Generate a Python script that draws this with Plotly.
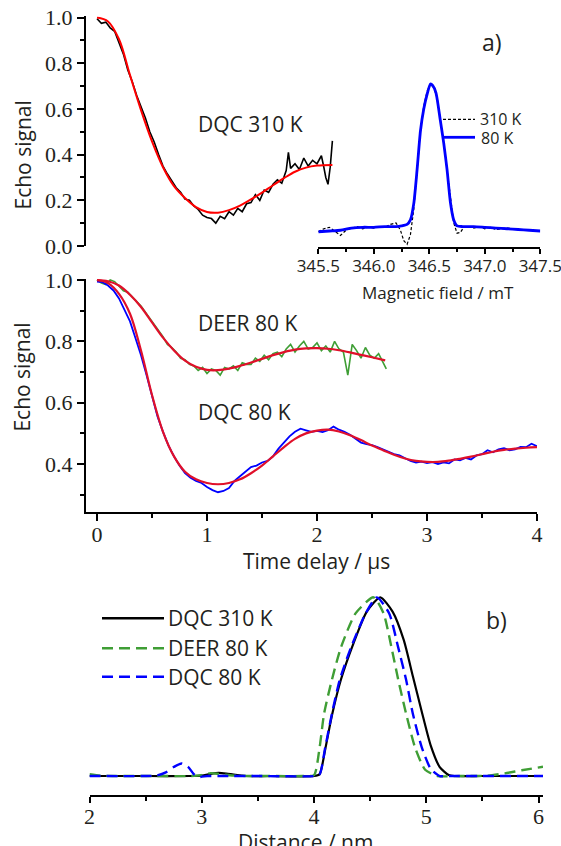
import plotly.graph_objects as go

W, H = 561, 846

# ---------------- Panel a (top): DQC 310 K time trace ----------------
DQC310_T = [0.00, 0.04, 0.08, 0.12, 0.16, 0.20, 0.24, 0.28, 0.32, 0.36, 0.40, 0.44, 0.48, 0.52,
            0.56, 0.60, 0.64, 0.68, 0.72, 0.76, 0.80, 0.84, 0.88, 0.92, 0.96, 1.00, 1.04, 1.08,
            1.12, 1.16, 1.20, 1.24, 1.28, 1.32, 1.36, 1.40, 1.44, 1.48, 1.52, 1.56, 1.60, 1.64,
            1.68, 1.72, 1.74, 1.76, 1.80, 1.84, 1.88, 1.92, 1.96, 2.00, 2.04, 2.06, 2.08, 2.10,
            2.12, 2.14]
DQC310_V = [0.995, 0.975, 0.98, 0.955, 0.94, 0.89, 0.84, 0.77, 0.72, 0.66, 0.61, 0.56, 0.50, 0.455,
            0.40, 0.35, 0.315, 0.285, 0.255, 0.235, 0.205, 0.20, 0.175, 0.16, 0.135, 0.125, 0.12, 0.10,
            0.13, 0.12, 0.15, 0.135, 0.165, 0.15, 0.185, 0.19, 0.225, 0.20, 0.245, 0.235, 0.27, 0.29,
            0.275, 0.33, 0.41, 0.34, 0.36, 0.335, 0.385, 0.35, 0.375, 0.36, 0.395, 0.35, 0.30, 0.27,
            0.345, 0.46]
FIT310_T = [0, 0.1, 0.2, 0.3, 0.4, 0.5, 0.6, 0.7, 0.8, 0.9, 1.0, 1.1, 1.2, 1.3, 1.4, 1.5, 1.6,
            1.7, 1.8, 1.9, 2.0, 2.14]
FIT310_V = [1.0, 0.983, 0.905, 0.748, 0.595, 0.458, 0.345, 0.262, 0.21, 0.17, 0.149, 0.146, 0.157,
            0.177, 0.204, 0.234, 0.266, 0.297, 0.325, 0.343, 0.352, 0.355]

# ---------------- Panel a (middle): DQC 80 K and DEER 80 K ----------------
DQC80_T = [0.00, 0.05, 0.10, 0.15, 0.20, 0.25, 0.30, 0.35, 0.40, 0.45, 0.50, 0.55, 0.60, 0.65,
           0.70, 0.75, 0.80, 0.85, 0.90, 0.95, 1.00, 1.05, 1.10, 1.15, 1.20, 1.25, 1.30, 1.35,
           1.40, 1.45, 1.50, 1.55, 1.60, 1.65, 1.70, 1.75, 1.80, 1.85, 1.90, 1.95, 2.00, 2.05,
           2.10, 2.15, 2.20, 2.25, 2.30, 2.35, 2.40, 2.45, 2.50, 2.55, 2.60, 2.65, 2.70, 2.75,
           2.80, 2.85, 2.90, 2.95, 3.00, 3.05, 3.10, 3.15, 3.20, 3.25, 3.30, 3.35, 3.40, 3.45,
           3.50, 3.55, 3.60, 3.65, 3.70, 3.75, 3.80, 3.85, 3.90, 3.95, 4.00]
DQC80_V = [0.995, 0.993, 0.982, 0.966, 0.94, 0.905, 0.865, 0.81, 0.755, 0.69, 0.62, 0.555, 0.505, 0.46,
           0.425, 0.395, 0.37, 0.355, 0.345, 0.338, 0.325, 0.315, 0.308, 0.312, 0.322, 0.345, 0.36, 0.375,
           0.39, 0.395, 0.405, 0.41, 0.425, 0.45, 0.47, 0.49, 0.505, 0.515, 0.51, 0.505, 0.508, 0.504,
           0.51, 0.522, 0.512, 0.505, 0.495, 0.482, 0.47, 0.465, 0.462, 0.455, 0.448, 0.44, 0.432, 0.428,
           0.42, 0.41, 0.405, 0.408, 0.403, 0.406, 0.40, 0.405, 0.402, 0.415, 0.412, 0.42, 0.415, 0.428,
           0.432, 0.445, 0.438, 0.448, 0.452, 0.445, 0.448, 0.456, 0.455, 0.466, 0.458]
FIT80_T = [0, 0.1, 0.2, 0.3, 0.4, 0.5, 0.6, 0.7, 0.8, 0.9, 1.0, 1.1, 1.2, 1.3, 1.4, 1.5, 1.6, 1.7,
           1.8, 1.9, 2.0, 2.1, 2.2, 2.3, 2.4, 2.5, 2.6, 2.7, 2.8, 2.9, 3.0, 3.1, 3.2, 3.3, 3.4, 3.5,
           3.6, 3.7, 3.8, 3.9, 4.0]
FIT80_V = [1.0, 0.99, 0.955, 0.89, 0.77, 0.625, 0.505, 0.425, 0.375, 0.35, 0.338, 0.334, 0.338, 0.35,
           0.37, 0.395, 0.425, 0.455, 0.482, 0.5, 0.509, 0.512, 0.506, 0.494, 0.478, 0.46, 0.445, 0.43,
           0.418, 0.41, 0.407, 0.407, 0.411, 0.417, 0.424, 0.432, 0.44, 0.446, 0.45, 0.453, 0.455]

DEER_T = [0.00, 0.04, 0.08, 0.12, 0.16, 0.20, 0.24, 0.28, 0.32, 0.36, 0.40, 0.44, 0.48, 0.52,
          0.56, 0.60, 0.64, 0.68, 0.72, 0.76, 0.80, 0.84, 0.88, 0.92, 0.96, 1.00, 1.04, 1.08,
          1.12, 1.16, 1.20, 1.24, 1.28, 1.32, 1.36, 1.40, 1.44, 1.48, 1.52, 1.56, 1.60, 1.64,
          1.68, 1.72, 1.76, 1.80, 1.84, 1.88, 1.92, 1.96, 2.00, 2.04, 2.08, 2.12, 2.16, 2.20,
          2.24, 2.28, 2.32, 2.36, 2.40, 2.44, 2.48, 2.52, 2.56, 2.60, 2.63]
DEER_V = [1.0, 0.99, 0.985, 1.0, 0.995, 0.98, 0.965, 0.96, 0.945, 0.93, 0.915, 0.895, 0.875, 0.855,
          0.835, 0.815, 0.79, 0.78, 0.765, 0.745, 0.74, 0.725, 0.72, 0.705, 0.715, 0.695, 0.71, 0.705,
          0.69, 0.715, 0.71, 0.72, 0.705, 0.73, 0.725, 0.725, 0.745, 0.735, 0.755, 0.74, 0.76, 0.765,
          0.75, 0.775, 0.79, 0.765, 0.785, 0.80, 0.775, 0.78, 0.795, 0.77, 0.785, 0.765, 0.80, 0.775,
          0.765, 0.69, 0.79, 0.77, 0.745, 0.78, 0.755, 0.745, 0.76, 0.73, 0.71]
FITDEER_T = [0, 0.1, 0.2, 0.3, 0.4, 0.5, 0.6, 0.7, 0.8, 0.9, 1.0, 1.1, 1.2, 1.3, 1.4, 1.5, 1.6,
             1.7, 1.8, 1.9, 2.0, 2.1, 2.2, 2.3, 2.4, 2.5, 2.62]
FITDEER_V = [1.0, 0.996, 0.982, 0.952, 0.912, 0.862, 0.812, 0.77, 0.737, 0.717, 0.707, 0.706, 0.711,
             0.72, 0.731, 0.743, 0.755, 0.765, 0.773, 0.777, 0.778, 0.776, 0.771, 0.764, 0.756, 0.748,
             0.738]

# ---------------- Inset: echo-detected field sweep ----------------
FIELD80 = [345.50, 345.60, 345.70, 345.80, 345.90, 346.00, 346.10, 346.20, 346.25, 346.30, 346.33,
           346.36, 346.39, 346.42, 346.45, 346.48, 346.51, 346.53, 346.56, 346.60, 346.63, 346.66,
           346.69, 346.72, 346.75, 346.80, 346.90, 347.00, 347.10, 347.20, 347.30, 347.40, 347.50]
SPEC80 = [0.0, 0.005, 0.01, 0.025, 0.03, 0.03, 0.035, 0.035, 0.04, 0.05, 0.08, 0.19, 0.42, 0.68,
          0.83, 0.93, 1.0, 0.99, 0.94, 0.75, 0.6, 0.42, 0.2, 0.08, 0.04, 0.035, 0.035, 0.03, 0.025,
          0.02, 0.015, 0.01, 0.005]
FIELD310 = [345.50, 345.55, 345.60, 345.65, 345.70, 345.75, 345.80, 345.85, 345.90, 345.95, 346.00,
            346.05, 346.10, 346.15, 346.20, 346.24, 346.27, 346.30, 346.33, 346.36, 346.39, 346.42,
            346.45, 346.48, 346.51, 346.54, 346.57, 346.60, 346.63, 346.66, 346.69, 346.72, 346.75,
            346.78, 346.81, 346.85, 346.90, 346.95, 347.00, 347.05, 347.10, 347.20, 347.30, 347.40,
            347.50]
SPEC310 = [0.0, 0.02, 0.03, 0.0, -0.025, 0.01, 0.02, 0.035, 0.02, 0.03, 0.025, 0.035, 0.03, 0.05,
           0.06, 0.01, -0.06, -0.085, -0.02, 0.15, 0.41, 0.68, 0.85, 0.95, 1.0, 0.975, 0.91, 0.77,
           0.6, 0.42, 0.22, 0.06, -0.01, -0.005, 0.03, 0.035, 0.025, 0.035, 0.02, 0.03, 0.015, 0.025,
           0.015, 0.01, 0.005]
FIELD_TICKS = [345.5, 346.0, 346.5, 347.0, 347.5]

# ---------------- Panel b: distance distributions ----------------
R310 = [2.0, 2.5, 2.9, 3.0, 3.08, 3.15, 3.22, 3.3, 3.4, 3.6, 4.0, 4.05, 4.10, 4.16, 4.24, 4.35,
        4.47, 4.59, 4.70, 4.80, 4.88, 4.96, 5.04, 5.12, 5.20, 5.25, 5.5, 6.0]
P310 = [0, 0, 0, 0.002, 0.012, 0.018, 0.014, 0.006, 0.0, 0, 0, 0.01, 0.15, 0.34, 0.54, 0.74,
        0.92, 1.0, 0.92, 0.76, 0.56, 0.36, 0.17, 0.05, 0.005, 0, 0, 0]
RDEER = [2.0, 2.1, 2.3, 2.6, 2.9, 3.0, 3.08, 3.15, 3.25, 3.4, 3.6, 3.9, 4.0, 4.05, 4.09, 4.16,
         4.24, 4.37, 4.53, 4.62, 4.69, 4.75, 4.82, 4.90, 4.99, 5.10, 5.3, 5.55, 5.7, 5.85, 6.04]
PDEER = [0.01, 0.002, 0, 0, 0, 0.005, 0.016, 0.012, 0.004, 0, 0, 0, 0.005, 0.16, 0.35, 0.54,
         0.72, 0.91, 1.0, 0.91, 0.72, 0.54, 0.35, 0.16, 0.035, 0, 0, 0.002, 0.015, 0.032, 0.052]
R80 = [2.0, 2.5, 2.6, 2.68, 2.75, 2.82, 2.88, 2.93, 2.98, 3.05, 3.2, 3.5, 4.0, 4.05, 4.10, 4.16,
       4.23, 4.33, 4.46, 4.56, 4.67, 4.75, 4.82, 4.88, 4.96, 5.04, 5.12, 5.2, 5.5, 6.04]
P80 = [0, 0, 0.003, 0.02, 0.05, 0.07, 0.05, 0.01, -0.005, 0.0, 0, 0, 0, 0.01, 0.16, 0.35, 0.54,
       0.72, 0.91, 1.0, 0.91, 0.72, 0.54, 0.35, 0.16, 0.04, 0.0, 0, 0, 0]

TIME_TICKS = [0, 1, 2, 3, 4]
DIST_TICKS = [2, 3, 4, 5, 6]

RED = "#ff0000"
RED2 = "#e0102a"
GREEN = "#3f9e35"
BLUE = "#0000ff"
TXT = "#231f20"
SERIF = "Liberation Serif, Times New Roman, serif"
SANS = "Open Sans"


def px(x):
    return x / W


def py(y):
    return 1 - y / H


fig = go.Figure()

# top panel
fig.add_trace(go.Scatter(x=DQC310_T, y=DQC310_V, xaxis="x", yaxis="y", mode="lines",
                         line=dict(color="black", width=1.6)))
fig.add_trace(go.Scatter(x=FIT310_T, y=FIT310_V, xaxis="x", yaxis="y", mode="lines",
                         line=dict(color=RED, width=2, shape="spline")))
# middle panel
fig.add_trace(go.Scatter(x=DEER_T, y=DEER_V, xaxis="x2", yaxis="y2", mode="lines",
                         line=dict(color=GREEN, width=1.6)))
fig.add_trace(go.Scatter(x=DQC80_T, y=DQC80_V, xaxis="x2", yaxis="y2", mode="lines",
                         line=dict(color=BLUE, width=1.8)))
fig.add_trace(go.Scatter(x=FITDEER_T, y=FITDEER_V, xaxis="x2", yaxis="y2", mode="lines",
                         line=dict(color=RED2, width=2.2, shape="spline")))
fig.add_trace(go.Scatter(x=FIT80_T, y=FIT80_V, xaxis="x2", yaxis="y2", mode="lines",
                         line=dict(color=RED2, width=2.2, shape="spline")))
# inset
fig.add_trace(go.Scatter(x=FIELD310, y=SPEC310, xaxis="x3", yaxis="y3", mode="lines",
                         line=dict(color="black", width=1.2, dash="3px,2px")))
fig.add_trace(go.Scatter(x=FIELD80, y=SPEC80, xaxis="x3", yaxis="y3", mode="lines",
                         line=dict(color=BLUE, width=2.8, shape="spline", smoothing=0.6)))
# panel b
fig.add_trace(go.Scatter(x=R310, y=P310, xaxis="x4", yaxis="y4", mode="lines",
                         line=dict(color="black", width=2.2, shape="spline", smoothing=0.6)))
fig.add_trace(go.Scatter(x=RDEER, y=PDEER, xaxis="x4", yaxis="y4", mode="lines",
                         line=dict(color=GREEN, width=2.4, dash="11px,6px", shape="spline", smoothing=0.6)))
fig.add_trace(go.Scatter(x=R80, y=P80, xaxis="x4", yaxis="y4", mode="lines",
                         line=dict(color=BLUE, width=2.4, dash="11px,6px", shape="spline", smoothing=0.6)))

axis_base = dict(showline=True, linecolor="black", linewidth=2, ticks="outside", tickcolor="black",
                 tickwidth=2, ticklen=7, showgrid=False, zeroline=False, automargin=False,
                 ticklabeloverflow="allow",
                 tickfont=dict(family=SERIF, size=22, color=TXT))
minor_base = dict(ticks="outside", ticklen=4, tickwidth=2, tickcolor="black", showgrid=False)

fig.update_layout(
    template="none",
    width=W, height=H, margin=dict(l=0, r=0, t=0, b=0, autoexpand=False),
    paper_bgcolor="white", plot_bgcolor="rgba(0,0,0,0)", showlegend=False,
    xaxis=dict(domain=[px(86), px(537)], range=[-0.1, 4], visible=False, anchor="y", automargin=False),
    yaxis=dict(axis_base, domain=[py(246), py(16.4)], range=[0, 1.005], anchor="x",
               tickvals=[0, 0.2, 0.4, 0.6, 0.8, 1.0], tickformat=".1f",
               minor=dict(minor_base, tick0=0, dtick=0.1)),
    xaxis2=dict(axis_base, domain=[px(86), px(537)], range=[-0.1, 4], anchor="y2",
                tickvals=TIME_TICKS, ticklabelstandoff=-5,
                minor=dict(minor_base, tick0=0, dtick=0.5)),
    yaxis2=dict(axis_base, domain=[py(512), py(278.5)], range=[0.2435, 1.005], anchor="x2",
                tickvals=[0.4, 0.6, 0.8, 1.0], tickformat=".1f",
                minor=dict(minor_base, tick0=0, dtick=0.1)),
    xaxis3=dict(axis_base, domain=[px(318.3), px(540.3)], range=[345.5, 347.5], anchor="y3",
                tickvals=FIELD_TICKS, tickformat=".1f", ticklen=5, ticklabelstandoff=-2,
                tickfont=dict(family=SANS, size=17, color=TXT),
                minor=dict(minor_base, tick0=345.5, dtick=0.25, ticklen=3)),
    yaxis3=dict(domain=[py(246.5), py(69.2)], range=[-0.1, 1.1], visible=False, anchor="x3",
                automargin=False),
    xaxis4=dict(axis_base, domain=[px(89.5), px(543)], range=[2, 6.04], anchor="y4",
                tickvals=DIST_TICKS, ticklen=6, ticklabelstandoff=-5,
                minor=dict(minor_base, tick0=2, dtick=0.5, ticklen=4)),
    yaxis4=dict(domain=[py(795), py(585)], range=[-0.1063, 1.069], visible=False, anchor="x4",
                automargin=False),
)


def label(text, x, y, size=21, xanchor="left", angle=0, family=SANS):
    fig.add_annotation(text=text, x=px(x), y=py(y), xref="paper", yref="paper", showarrow=False,
                       xanchor=xanchor, yanchor="middle", textangle=angle,
                       font=dict(family=family, size=size, color=TXT))


label("DQC 310 K", 196, 124)
label("DEER 80 K", 196, 323)
label("DQC 80 K", 196, 412)
label("a)", 480, 42, size=23)
label("b)", 484, 620, size=23)
label("Echo signal", 22.5, 155, xanchor="center", angle=-90)
label("Echo signal", 21.6, 377, xanchor="center", angle=-90)
label("Time delay / μs", 316.5, 561, xanchor="center")
label("Magnetic field / mT", 438, 292, size=17, xanchor="center")
label("Distance / nm", 305, 842, xanchor="center")

# inset legend
fig.add_shape(type="line", xref="paper", yref="paper", x0=px(443), x1=px(475), y0=py(119.3), y1=py(119.3),
              line=dict(color="black", width=1.2, dash="3px,2px"))
fig.add_shape(type="line", xref="paper", yref="paper", x0=px(443), x1=px(475), y0=py(137.3), y1=py(137.3),
              line=dict(color=BLUE, width=2.8))
label("310 K", 478, 118.5, size=16)
label("80 K", 479, 138, size=16)

# panel b legend
for yy, col, dash, name in [(618.3, "black", "solid", "DQC 310 K"),
                            (648.3, GREEN, "11px,6px", "DEER 80 K"),
                            (676.7, BLUE, "11px,6px", "DQC 80 K")]:
    fig.add_shape(type="line", xref="paper", yref="paper", x0=px(102), x1=px(164), y0=py(yy), y1=py(yy),
                  line=dict(color=col, width=2.4, dash=dash))
    label(name, 166, yy)

fig.write_html("out.html", config={"displayModeBar": False},
               post_script="document.body.style.margin='0';document.body.style.overflow='hidden';")
